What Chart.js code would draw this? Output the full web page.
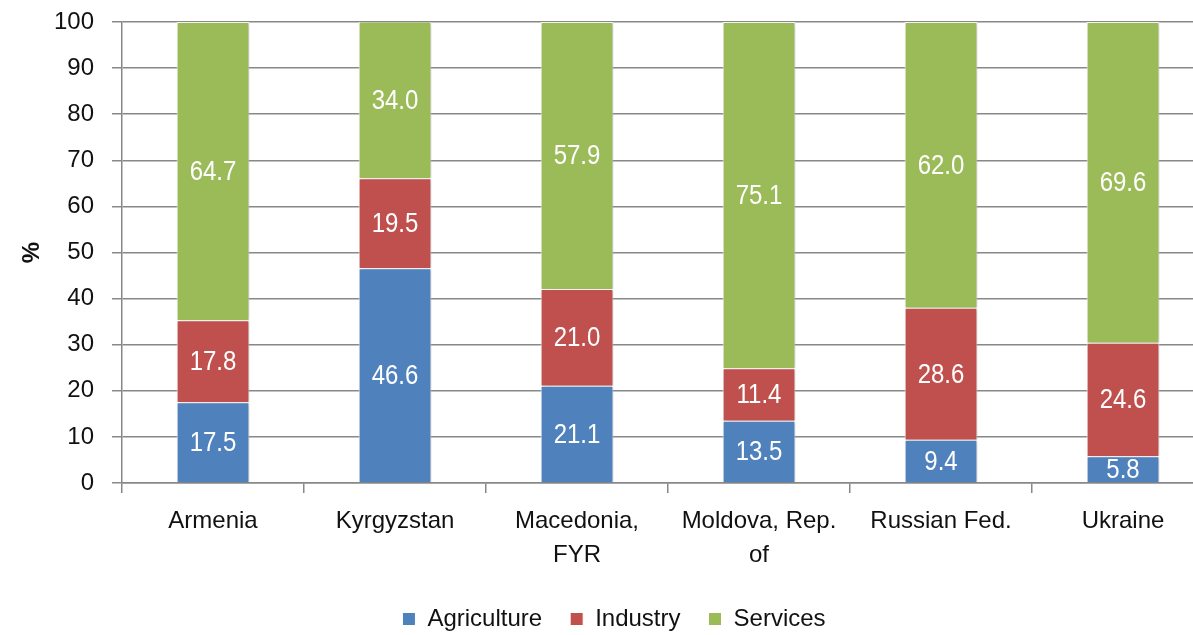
<!DOCTYPE html>
<html>
<head>
<meta charset="utf-8">
<script src="https://cdn.jsdelivr.net/npm/chart.js@4"></script>
<style>
  html, body { margin: 0; padding: 0; background: #fff; overflow: hidden; }
  #wrap { width: 1214px; height: 635px; }
</style>
</head>
<body>
<div id="wrap"><canvas id="sectorChart" width="1214" height="635"></canvas></div>
<script>
const countries = ['Armenia', 'Kyrgyzstan', ['Macedonia,', 'FYR'], ['Moldova, Rep.', 'of'], 'Russian Fed.', 'Ukraine'];
const agriculture = [17.5, 46.6, 21.1, 13.5, 9.4, 5.8];
const industry = [17.8, 19.5, 21.0, 11.4, 28.6, 24.6];
const services = [64.7, 34.0, 57.9, 75.1, 62.0, 69.6];
const yTicks = [0, 10, 20, 30, 40, 50, 60, 70, 80, 90, 100];

const fontFamily = '"Liberation Sans", Arial, sans-serif';

// soft shadow behind the bars, like the original
const barShadow = {
    id: 'barShadow',
    beforeDatasetsDraw(chart) {
        const c = chart.ctx;
        c.save();
        c.shadowColor = 'rgba(0,0,0,0.22)';
        c.shadowBlur = 4;
        c.shadowOffsetX = 2;
        c.shadowOffsetY = 1;
    },
    afterDatasetsDraw(chart) {
        chart.ctx.restore();
    }
};

// white value labels in the middle of every segment
const valueLabels = {
    id: 'valueLabels',
    afterDatasetsDraw(chart) {
        const c = chart.ctx;
        c.save();
        c.fillStyle = '#ffffff';
        c.font = '24px ' + fontFamily;
        c.textAlign = 'center';
        c.textBaseline = 'middle';
        chart.data.datasets.forEach((ds, i) => {
            chart.getDatasetMeta(i).data.forEach((bar, j) => {
                const mid = (bar.y + bar.base) / 2;
                c.save();
                c.translate(bar.x, mid);
                c.scale(1, 1.15);
                c.fillText(ds.data[j].toFixed(1), 0, 1);
                c.restore();
            });
        });
        c.restore();
    }
};

new Chart(document.getElementById('sectorChart'), {
    type: 'bar',
    data: {
        labels: countries,
        datasets: [
            { label: 'Agriculture', data: agriculture, backgroundColor: '#4F81BD' },
            { label: 'Industry', data: industry, backgroundColor: '#C0504D' },
            { label: 'Services', data: services, backgroundColor: '#9BBB59' }
        ].map(ds => Object.assign(ds, {
            borderColor: '#ffffff',
            borderWidth: 1,
            barPercentage: 0.4,
            categoryPercentage: 1.0
        }))
    },
    options: {
        responsive: false,
        animation: false,
        layout: { padding: { top: 22, right: 0, left: 14, bottom: -6 } },
        plugins: {
            tooltip: { enabled: false },
            legend: {
                position: 'bottom',
                labels: {
                    font: { family: fontFamily, size: 24 },
                    color: '#111',
                    boxWidth: 13,
                    boxHeight: 13,
                    padding: 28
                }
            }
        },
        scales: {
            x: {
                stacked: true,
                afterFit: s => { s.height = 96; },
                grid: {
                    offset: true,
                    drawOnChartArea: false,
                    drawTicks: true,
                    tickLength: 10,
                    color: '#888',
                    lineWidth: 1.5
                },
                border: { color: '#888', width: 1.5 },
                ticks: {
                    font: { family: fontFamily, size: 24, lineHeight: 1.4 },
                    color: '#111',
                    maxRotation: 0,
                    padding: 12
                }
            },
            y: {
                stacked: true,
                min: 0,
                max: 100,
                afterFit: s => {
                    s.width = 108;
                    s.paddingTop = 0;
                    s.paddingBottom = 0;
                },
                afterBuildTicks: s => { s.ticks = yTicks.map(v => ({ value: v })); },
                grid: {
                    color: '#888',
                    lineWidth: 1.5,
                    tickLength: 10
                },
                border: { color: '#888', width: 1.5 },
                title: {
                    display: true,
                    text: '%',
                    font: { family: fontFamily, size: 24, weight: 'bold' },
                    color: '#111'
                },
                ticks: {
                    font: { family: fontFamily, size: 24 },
                    color: '#111',
                    padding: 18
                }
            }
        }
    },
    plugins: [barShadow, valueLabels]
});
</script>
</body>
</html>
